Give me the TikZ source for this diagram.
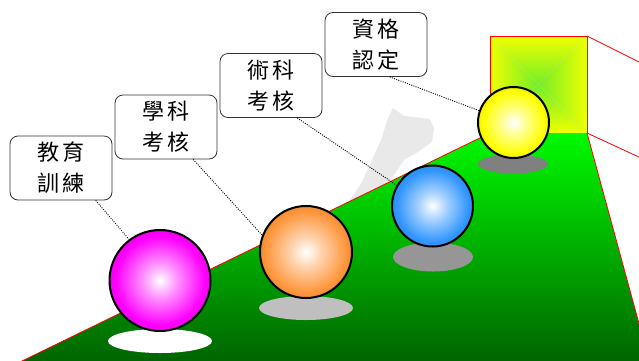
\documentclass[tikz,border=0pt]{standalone}
\usepackage{fontspec}
\usepackage{xcolor}
\newfontfamily\cjk{Noto Sans CJK TC}[LetterSpace=18]

\definecolor{floortop}{RGB}{0,250,0}
\definecolor{floorbot}{RGB}{0,100,0}
\definecolor{walledge}{RGB}{240,255,0}
\definecolor{wallmid}{RGB}{115,238,40}
\definecolor{ghost}{RGB}{233,233,233}
\definecolor{ballmag}{RGB}{255,0,255}
\definecolor{ballora}{RGB}{255,150,60}
\definecolor{ballblu}{RGB}{50,150,255}
\definecolor{ballyel}{RGB}{255,255,0}

% Radial glow for the balls, white in the middle.
\pgfdeclareradialshading[ballcol]{glow}{\pgfpoint{0bp}{0bp}}{%
  color(0bp)=(white); color(9bp)=(ballcol!45!white); color(22bp)=(ballcol);
  color(25bp)=(ballcol!94!black); color(50bp)=(ballcol!94!black)}

\begin{document}
\begin{tikzpicture}
	[
		x=1pt, y=-1pt,
		edge/.style={red, line width=0.8pt},
		ball/.style={circle, draw=black, line width=2pt, shade, shading=glow,
			/utils/exec={\colorlet{ballcol}{#1}}},
		tag/.style={draw=black!80, fill=white, rounded corners=8pt, line width=0.8pt,
			minimum width=102pt, minimum height=64pt, align=center,
			font=\cjk\fontsize{22}{31}\selectfont},
		pointer/.style={black, line width=0.9pt, dash pattern=on 1pt off 1.3pt}
	]
	\useasboundingbox (0,0) rectangle (639,360);
	\clip (0,0) rectangle (639,360);

	% Grey island in the back.
	\fill[ghost] (393,108) -- (404,116) -- (430,119) -- (434,128) -- (432,142)
		-- (418,152) -- (404,160) -- (392,178) -- (370,205) -- (345,225)
		-- (350,200) -- (362,182) -- (372,160) -- (381,140) -- (388,118) -- cycle;

	% Back wall, four triangles shaded to the middle.
	\shade[top color=walledge, bottom color=wallmid] (490,36) -- (587,36) -- (538.5,84.5) -- cycle;
	\shade[top color=wallmid, bottom color=walledge] (490,133) -- (587,133) -- (538.5,84.5) -- cycle;
	\shade[left color=walledge, right color=wallmid] (490,36) -- (490,133) -- (538.5,84.5) -- cycle;
	\shade[left color=wallmid, right color=walledge] (587,36) -- (587,133) -- (538.5,84.5) -- cycle;
	\draw[edge] (490,36) rectangle (587,133);
	\draw[edge] (587,36) -- (641,63);
	\draw[edge] (587,133) -- (641,158);

	% Floor.
	\shade[top color=floortop, bottom color=floorbot]
		(20,362) -- (490,133) -- (587,133) -- (641,331) -- (641,362) -- cycle;
	\draw[edge] (20,362) -- (490,133);
	\draw[edge] (587,133) -- (641,331);

	% Shadows under the balls.
	\fill[white] (160,341) ellipse (52 and 12);
	\fill[black!25] (306,308) ellipse (47 and 12);
	\fill[black!41] (433,257) ellipse (40 and 14.5);
	\fill[black!50] (513,164) ellipse (35 and 9.5);

	% Balls.
	\node[ball=ballmag, minimum size=101pt] (b1) at (160,280.5) {};
	\node[ball=ballora, minimum size=92pt] (b2) at (306,252) {};
	\node[ball=ballblu, minimum size=81pt] (b3) at (432.5,206) {};
	\node[ball=ballyel, minimum size=71pt] (b4) at (513.5,122.5) {};

	% Labels.
	\node[tag] (t1) at (61,168) {教育\\訓練};
	\node[tag] (t2) at (166,127) {學科\\考核};
	\node[tag] (t3) at (271,85.5) {術科\\考核};
	\node[tag] (t4) at (376,44.5) {資格\\認定};

	% Pointers from labels to balls.
	\draw[pointer] (t1.-43) -- (b1.127);
	\draw[pointer] (t2.-50) -- (b2.159);
	\draw[pointer] (t3.-51) -- (b3.150);
	\draw[pointer] (t4.-67) -- (b4.161);
\end{tikzpicture}
\end{document}
